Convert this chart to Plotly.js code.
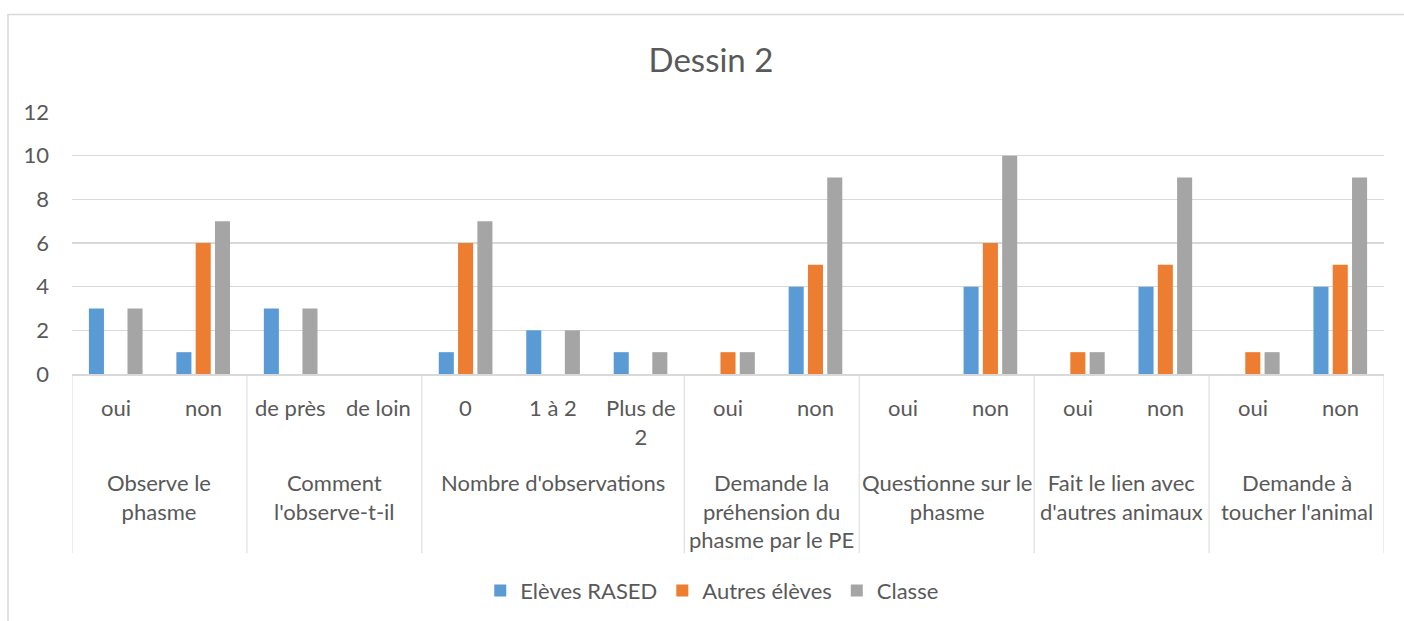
<!DOCTYPE html>
<html>
<head>
<meta charset="utf-8">
<script src="https://cdn.plot.ly/plotly-3.0.1.min.js"></script>
<style>
  html, body { margin: 0; padding: 0; background: #ffffff; }
  #chart { width: 1404px; height: 621px; }
</style>
</head>
<body>
<div id="chart"></div>
<script>
// ---- Data ----
const groups = [
  "Observe le<br>phasme",
  "Comment<br>l'observe-t-il",
  "Nombre d'observations",
  "Demande la<br>préhension du<br>phasme par le PE",
  "Questionne sur le<br>phasme",
  "Fait le lien avec<br>d'autres animaux",
  "Demande à<br>toucher l'animal"
];
const groupSizes = [2, 2, 3, 2, 2, 2, 2];
const subcats = [
  "oui", "non",
  "de près", "de loin",
  "0", "1 à 2", "Plus de<br>2",
  "oui", "non",
  "oui", "non",
  "oui", "non",
  "oui", "non"
];
const seriesNames = ["Elèves RASED", "Autres élèves", "Classe"];
const rased  = [3, 1, 3, 0, 1, 2, 1, 0, 4, 0, 4, 0, 4, 0, 4];
const autres = [0, 6, 0, 0, 6, 0, 0, 1, 5, 0, 6, 1, 5, 1, 5];
const classe = [3, 7, 3, 0, 7, 2, 1, 1, 9, 0, 10, 1, 9, 1, 9];
const yTicks = [0, 2, 4, 6, 8, 10, 12];

// ---- Styling ----
const colors = ["#5b9bd5", "#ed7d31", "#a5a5a5"];
const textColor = "#595959";
const lineColor = "#d9d9d9";
const fontFamily = "Lato, 'Open Sans', sans-serif";
const fs = 22;

const xIdx = subcats.map((_, i) => i);
const series = [rased, autres, classe];

const traces = series.map((vals, k) => ({
  type: "bar",
  name: seriesNames[k],
  x: xIdx,
  y: vals,
  marker: { color: colors[k] },
  hoverinfo: "y+name"
}));

const annotations = [];
// sub-category labels
subcats.forEach((s, i) => {
  annotations.push({
    x: i, xref: "x", y: 0, yref: "paper",
    text: s, showarrow: false,
    xanchor: "center", yanchor: "top", yshift: -18,
    font: { family: fontFamily, size: fs, color: textColor }
  });
});

// group labels and separators
const shapes = [];
let start = 0;
const boundaries = [-0.5];
groups.forEach((g, gi) => {
  const n = groupSizes[gi];
  const center = start + (n - 1) / 2;
  annotations.push({
    x: center, xref: "x", y: 0, yref: "paper",
    text: g, showarrow: false,
    xanchor: "center", yanchor: "top", yshift: -93,
    font: { family: fontFamily, size: fs, color: textColor }
  });
  start += n;
  boundaries.push(start - 0.5);
});
boundaries.forEach(b => {
  shapes.push({
    type: "line", xref: "x", yref: "paper",
    x0: b, x1: b, y0: 0, y1: -0.684,
    line: { color: lineColor, width: 1 }
  });
});
// outer chart border
shapes.push({
  type: "rect", xref: "paper", yref: "paper",
  x0: -0.0488, x1: 1.2, y0: 1.3726, y1: -1.5,
  line: { color: lineColor, width: 1.5 },
  fillcolor: "rgba(0,0,0,0)", layer: "below"
});

const layout = {
  width: 1404, height: 621,
  margin: { l: 72, r: 20, t: 112, b: 246 },
  paper_bgcolor: "#ffffff",
  plot_bgcolor: "#ffffff",
  title: {
    text: "Dessin 2",
    xref: "container", x: 0.5064,
    yref: "container", y: 0.903, yanchor: "middle",
    font: { family: fontFamily, size: 33, color: textColor }
  },
  barmode: "group",
  bargap: 0.338,
  bargroupgap: 0.22,
  xaxis: {
    type: "linear",
    range: [-0.5, subcats.length - 0.5],
    showticklabels: false,
    showgrid: false,
    zeroline: false,
    showline: true,
    linecolor: lineColor,
    linewidth: 1.5,
    fixedrange: true
  },
  yaxis: {
    range: [0, 12],
    tickvals: yTicks,
    ticktext: yTicks.map(String),
    showgrid: true,
    gridcolor: lineColor,
    gridwidth: 1.5,
    zeroline: false,
    showline: false,
    ticks: "",
    ticklabelstandoff: 22,
    tickfont: { family: fontFamily, size: fs, color: textColor },
    fixedrange: true
  },
  showlegend: true,
  legend: {
    orientation: "h",
    x: 0.488, xanchor: "center",
    y: -0.82, yanchor: "middle",
    font: { family: fontFamily, size: fs, color: textColor },
    bgcolor: "rgba(0,0,0,0)"
  },
  annotations: annotations,
  shapes: shapes
};

Plotly.newPlot("chart", traces, layout, { displayModeBar: false, staticPlot: true });
</script>
</body>
</html>
